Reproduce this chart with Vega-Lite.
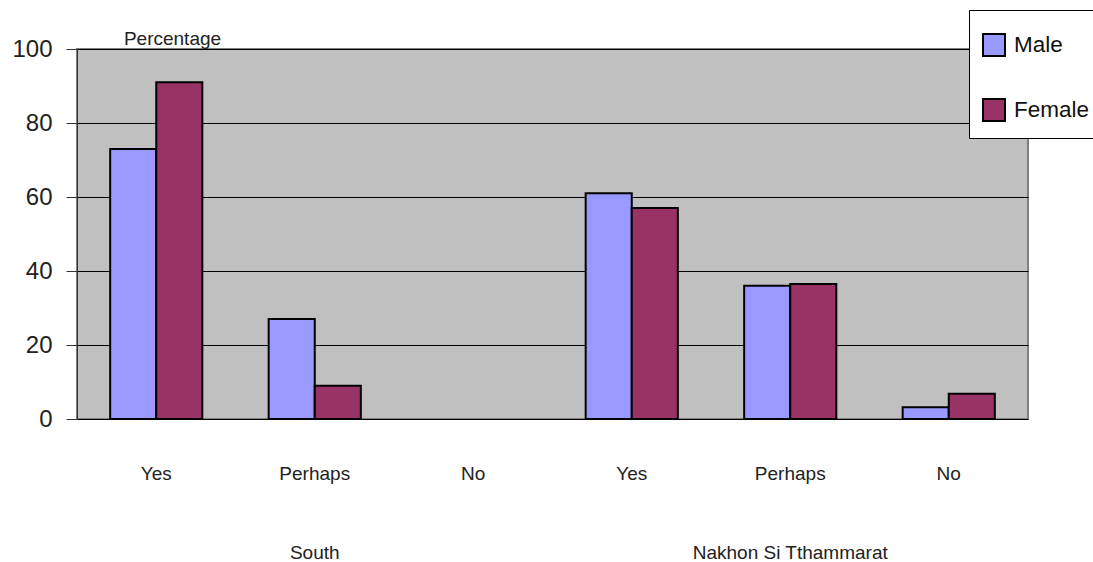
{
  "$schema": "https://vega.github.io/schema/vega-lite/v6.json",
  "autosize": {"type": "none"},
  "width": 951,
  "height": 370,
  "padding": {"left": 77, "top": 49, "right": 65, "bottom": 143},
  "background": "white",
  "config": {
    "font": "Liberation Sans",
    "view": {"fill": "#C0C0C0", "stroke": "#808080", "strokeWidth": 2}
  },
  "data": {
    "values": [
      {"cat": "South|Yes", "sex": "Male", "value": 73},
      {"cat": "South|Yes", "sex": "Female", "value": 91},
      {"cat": "South|Perhaps", "sex": "Male", "value": 27},
      {"cat": "South|Perhaps", "sex": "Female", "value": 9},
      {"cat": "South|No", "sex": "Male", "value": 0},
      {"cat": "South|No", "sex": "Female", "value": 0},
      {"cat": "NST|Yes", "sex": "Male", "value": 61},
      {"cat": "NST|Yes", "sex": "Female", "value": 57},
      {"cat": "NST|Perhaps", "sex": "Male", "value": 36},
      {"cat": "NST|Perhaps", "sex": "Female", "value": 36.5},
      {"cat": "NST|No", "sex": "Male", "value": 3.2},
      {"cat": "NST|No", "sex": "Female", "value": 6.8}
    ]
  },
  "mark": {"type": "bar", "stroke": "black"},
  "encoding": {
    "x": {
      "field": "cat",
      "type": "nominal",
      "sort": ["South|Yes", "South|Perhaps", "South|No", "NST|Yes", "NST|Perhaps", "NST|No"],
      "scale": {"paddingInner": 0, "paddingOuter": 0},
      "axis": {
        "title": null,
        "ticks": false,
        "domain": false,
        "labelAngle": 0,
        "labelFontSize": 19,
        "labelColor": "#222",
        "labelPadding": 54,
        "labelLimit": 0,
        "labelBaseline": "middle",
        "labelLineHeight": 79,
        "labelExpr": "datum.value == 'South|Perhaps' ? ['Perhaps', 'South'] : datum.value == 'NST|Perhaps' ? ['Perhaps', 'Nakhon Si Tthammarat'] : split(datum.value, '|')[1]"
      }
    },
    "xOffset": {
      "field": "sex",
      "type": "nominal",
      "sort": ["Male", "Female"],
      "scale": {"paddingInner": 0, "paddingOuter": 0.72}
    },
    "y": {
      "field": "value",
      "type": "quantitative",
      "scale": {"domain": [0, 100], "nice": false},
      "axis": {
        "values": [0, 20, 40, 60, 80, 100],
        "title": "Percentage",
        "titleAngle": 0,
        "titleX": 95,
        "titleY": -11,
        "titleAlign": "center",
        "titleBaseline": "middle",
        "titleFontSize": 19,
        "titleFontWeight": "normal",
        "titleColor": "#222",
        "labelFontSize": 24,
        "labelColor": "#222",
        "labelPadding": 14,
        "tickSize": 11,
        "tickColor": "#333",
        "domainColor": "#333",
        "grid": true,
        "gridColor": "black",
        "gridWidth": 1
      }
    },
    "strokeWidth": {
      "condition": {"test": "datum.value == 0", "value": 0},
      "value": 2
    },
    "color": {
      "field": "sex",
      "type": "nominal",
      "sort": ["Male", "Female"],
      "scale": {"domain": ["Male", "Female"], "range": ["#9999FF", "#993366"]},
      "legend": {
        "title": " ",
        "titleFontSize": 10,
        "titlePadding": 0,
        "orient": "none",
        "legendX": 892,
        "legendY": -39,
        "fillColor": "white",
        "strokeColor": "black",
        "padding": 13,
        "symbolType": "square",
        "symbolSize": 484,
        "symbolStrokeColor": "black",
        "symbolStrokeWidth": 2,
        "symbolOpacity": 1,
        "labelFontSize": 22.5,
        "labelColor": "#111",
        "labelOffset": 8,
        "rowPadding": 35
      }
    }
  }
}
